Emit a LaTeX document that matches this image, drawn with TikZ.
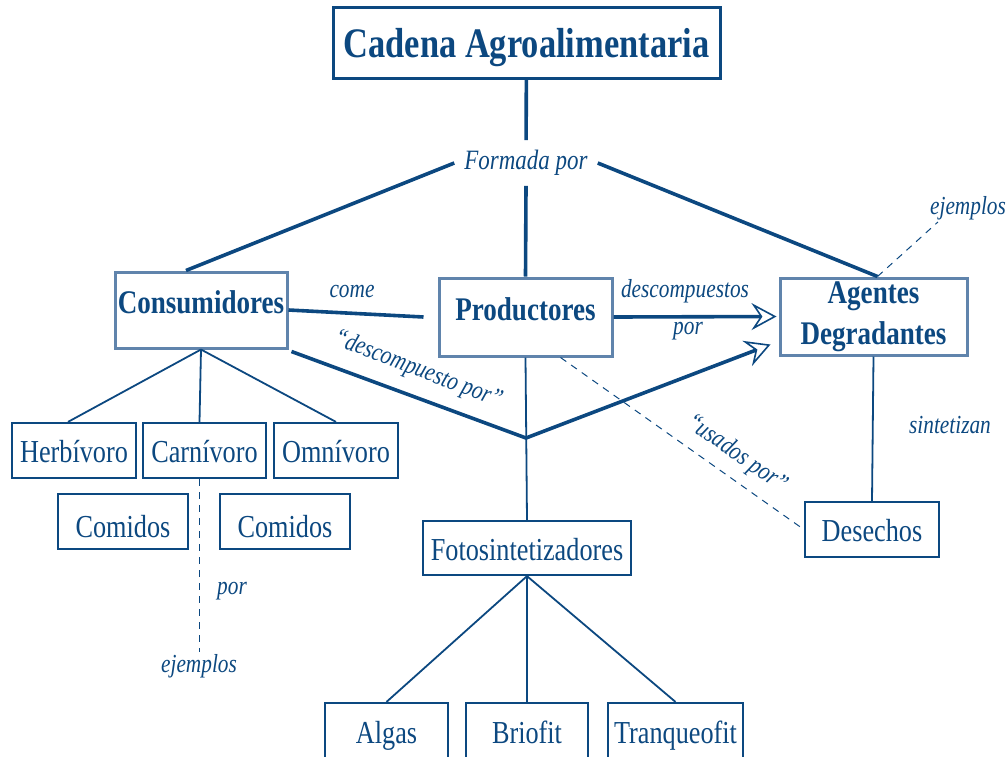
\documentclass[tikz,border=0pt]{standalone}
\usepackage{fontspec}
\setmainfont{Liberation Serif}[FakeStretch=0.82]
\usetikzlibrary{arrows.meta}
\definecolor{azul}{RGB}{12,72,128}
\definecolor{azulclaro}{RGB}{96,132,172}

\begin{document}
\begin{tikzpicture}[x=1pt, y=-1pt,
  caja/.style={draw=azul, line width=2.2pt, text=azul, inner sep=0pt,
    text height=24pt, text depth=0pt, font=\fontsize{32}{32}\selectfont},
  clave/.style={caja, draw=azulclaro, line width=3pt, text height=28pt, text depth=22pt,
    font=\bfseries\fontsize{33}{41}\selectfont},
  rotulo/.style={text=azul, inner sep=2pt, font=\itshape\fontsize{26}{26}\selectfont},
  grueso/.style={draw=azul, line width=3.6pt},
  fino/.style={draw=azul, line width=1.8pt},
  guiones/.style={draw=azul, line width=1pt, dash pattern=on 7pt off 6pt},
  punta/.style={-{Stealth[open, length=25pt, width=27pt, inset=9pt, line width=1.6pt]}}]
\useasboundingbox (0,0) rectangle (1006,756);
\clip (0,0) rectangle (1006,756);
\node[caja, line width=3pt, minimum width=387pt, minimum height=71pt, text height=30pt,
  font=\bfseries\fontsize{42}{42}\selectfont] (titulo) at (526.5,42.5){Cadena Agroalimentaria};
\node[rotulo, inner sep=10pt, font=\itshape\fontsize{28}{28}\selectfont] (formada) at (526,163){Formada por};
\node[clave, minimum width=172pt, minimum height=76pt] (cons) at (201,310){Consumidores};
\node[clave, minimum width=173pt, minimum height=78pt] (prod) at (525.5,317){Productores};
\node[clave, minimum width=187pt, minimum height=77pt, text height=, text depth=, align=center] (agen) at (873.5,316.5){Agentes\\Degradantes};
\draw[grueso](titulo) -- (formada);
\draw[grueso](formada.west) -- ([xshift=-15pt]cons.north);
\draw[grueso](formada.south) -- (prod.north);
\draw[grueso](formada.east) -- ([xshift=4pt]agen.north);
% consumidores
\node[caja, minimum width=124pt, minimum height=55pt] (herb) at (74,450.5){Herbívoro};
\node[caja, minimum width=123pt, minimum height=55pt] (carn) at (204.5,450.5){Carnívoro};
\node[caja, minimum width=124pt, minimum height=55pt] (omni) at (336,450.5){Omnívoro};
\node[caja, minimum width=130pt, minimum height=55pt, text height=32pt] (com1) at (123,521.5){Comidos};
\node[caja, minimum width=130pt, minimum height=55pt, text height=32pt] (com2) at (285,521.5){Comidos};
\draw[fino](cons.south) -- ([xshift=-6pt]herb.north);
\draw[fino](cons.south) -- ([xshift=-5pt]carn.north);
\draw[fino](cons.south) -- (omni.north);
\node[rotulo] (por2) at (232,591){por};
\node[rotulo] (ejem2) at (199,666){ejemplos};
\draw[guiones](carn.south -| ejem2) -- (ejem2.north);
% productores
\node[caja, minimum width=208pt, minimum height=54pt] (foto) at (527,548){Fotosintetizadores};
\node[caja, minimum width=123pt, minimum height=56pt] (alga) at (386.5,731){Algas};
\node[caja, minimum width=122pt, minimum height=56pt] (brio) at (527,731){Briofit};
\node[caja, minimum width=135pt, minimum height=56pt] (tran) at (675.5,731){Tranqueofit};
\coordinate (vert) at (526,438);
\draw[fino](prod.south) -- (foto.north);
\draw[fino](foto.south) -- (alga.north);
\draw[fino](foto.south) -- (brio.north);
\draw[fino](foto.south) -- (tran.north);
% relaciones
\node[rotulo] (come) at (352,291){come};
\draw[grueso](cons.east) -- ([xshift=-14pt]prod.west);
\node[rotulo] (descomp) at (685,291){descompuestos};
\node[rotulo] (por1) at (688,331){por};
\draw[grueso, punta](prod.east) -- ([xshift=-2pt]agen.west);
\draw[grueso, punta]([shift={(3,2)}]cons.south east) -- (vert) -- ([shift={(-8,-12)}]agen.south west);
\node[rotulo, rotate=-21] (descpor) at (418,370){“descompuesto por”};
% agentes
\node[caja, minimum width=134pt, minimum height=55pt] (dese) at (872,529.5){Desechos};
\node[rotulo] (sint) at (950,425){sintetizan};
\node[rotulo] (ejem1) at (968,208){ejemplos};
\draw[fino](agen.south) -- (dese.north);
\draw[guiones]([xshift=35pt]prod.south) -- (dese.west);
\node[rotulo, rotate=-35] (usados) at (737,454){“usados por”};
\draw[guiones]([xshift=4pt]agen.north) -- ([xshift=10pt]ejem1.south west);
\end{tikzpicture}
\end{document}
